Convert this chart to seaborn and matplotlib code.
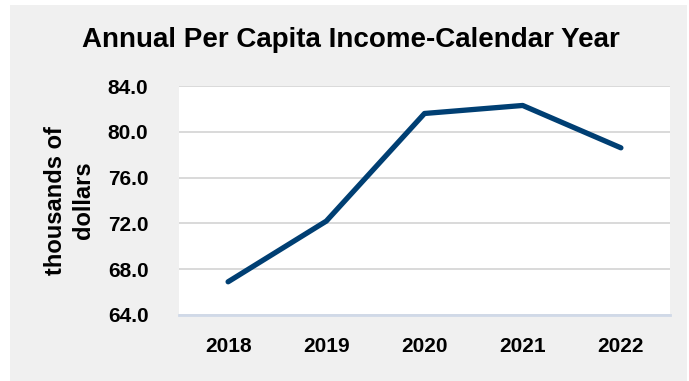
import matplotlib
matplotlib.use("Agg")
import matplotlib.pyplot as plt
from matplotlib.patches import Rectangle
import seaborn as sns
import pandas as pd

years = ["2018", "2019", "2020", "2021", "2022"]
income = [66.9, 72.2, 81.6, 82.3, 78.6]
y_ticks = [64.0, 68.0, 72.0, 76.0, 80.0, 84.0]

sns.set_theme(style="white")
plt.rcParams["font.family"] = ["Liberation Sans", "DejaVu Sans"]
plt.rcParams["text.color"] = "black"
plt.rcParams["xtick.color"] = "black"
plt.rcParams["ytick.color"] = "black"
plt.rcParams["axes.labelcolor"] = "black"

df = pd.DataFrame({"year": years, "income": income})

fig = plt.figure(figsize=(6.89, 3.81), dpi=100, facecolor="white")
# light gray panel behind the chart
fig.patches.append(Rectangle((10 / 689, 0), 677 / 689, 376 / 381,
                             transform=fig.transFigure, facecolor="#f0f0f0",
                             edgecolor="none", zorder=-1))

ax = fig.add_axes([179 / 689, 66 / 381, 491 / 689, 229 / 381])
ax.set_zorder(1)
ax.set_facecolor("white")

sns.lineplot(data=df, x="year", y="income", ax=ax, color="#003f73",
             linewidth=3.8, sort=False, solid_capstyle="round")

ax.set_xlim(-0.5, len(years) - 0.5)
ax.set_ylim(y_ticks[0], y_ticks[-1])
ax.set_yticks(y_ticks)
ax.set_yticklabels([f"{v:.1f}" for v in y_ticks])
ax.grid(axis="y", color="#d9d9d9", linewidth=1.4)
ax.set_axisbelow(True)

for s in ["top", "right", "left"]:
    ax.spines[s].set_visible(False)
ax.spines["bottom"].set_color("#d0d9e8")
ax.spines["bottom"].set_linewidth(2)

ax.tick_params(axis="y", length=0, pad=22, labelsize=15)
ax.tick_params(axis="x", length=0, pad=16, labelsize=15)
for lbl in ax.get_xticklabels() + ax.get_yticklabels():
    lbl.set_fontweight("bold")

ax.set_xlabel("")
ax.set_ylabel("thousands of\ndollars", fontsize=17, fontweight="bold",
              linespacing=1.25)
ax.yaxis.set_label_coords(-84 / 491, 0.5)

fig.text(351 / 689, 1 - 40 / 381, "Annual Per Capita Income-Calendar Year",
         ha="center", va="center", fontsize=20, fontweight="bold")

fig.savefig("out.png", dpi=100, facecolor="white")
